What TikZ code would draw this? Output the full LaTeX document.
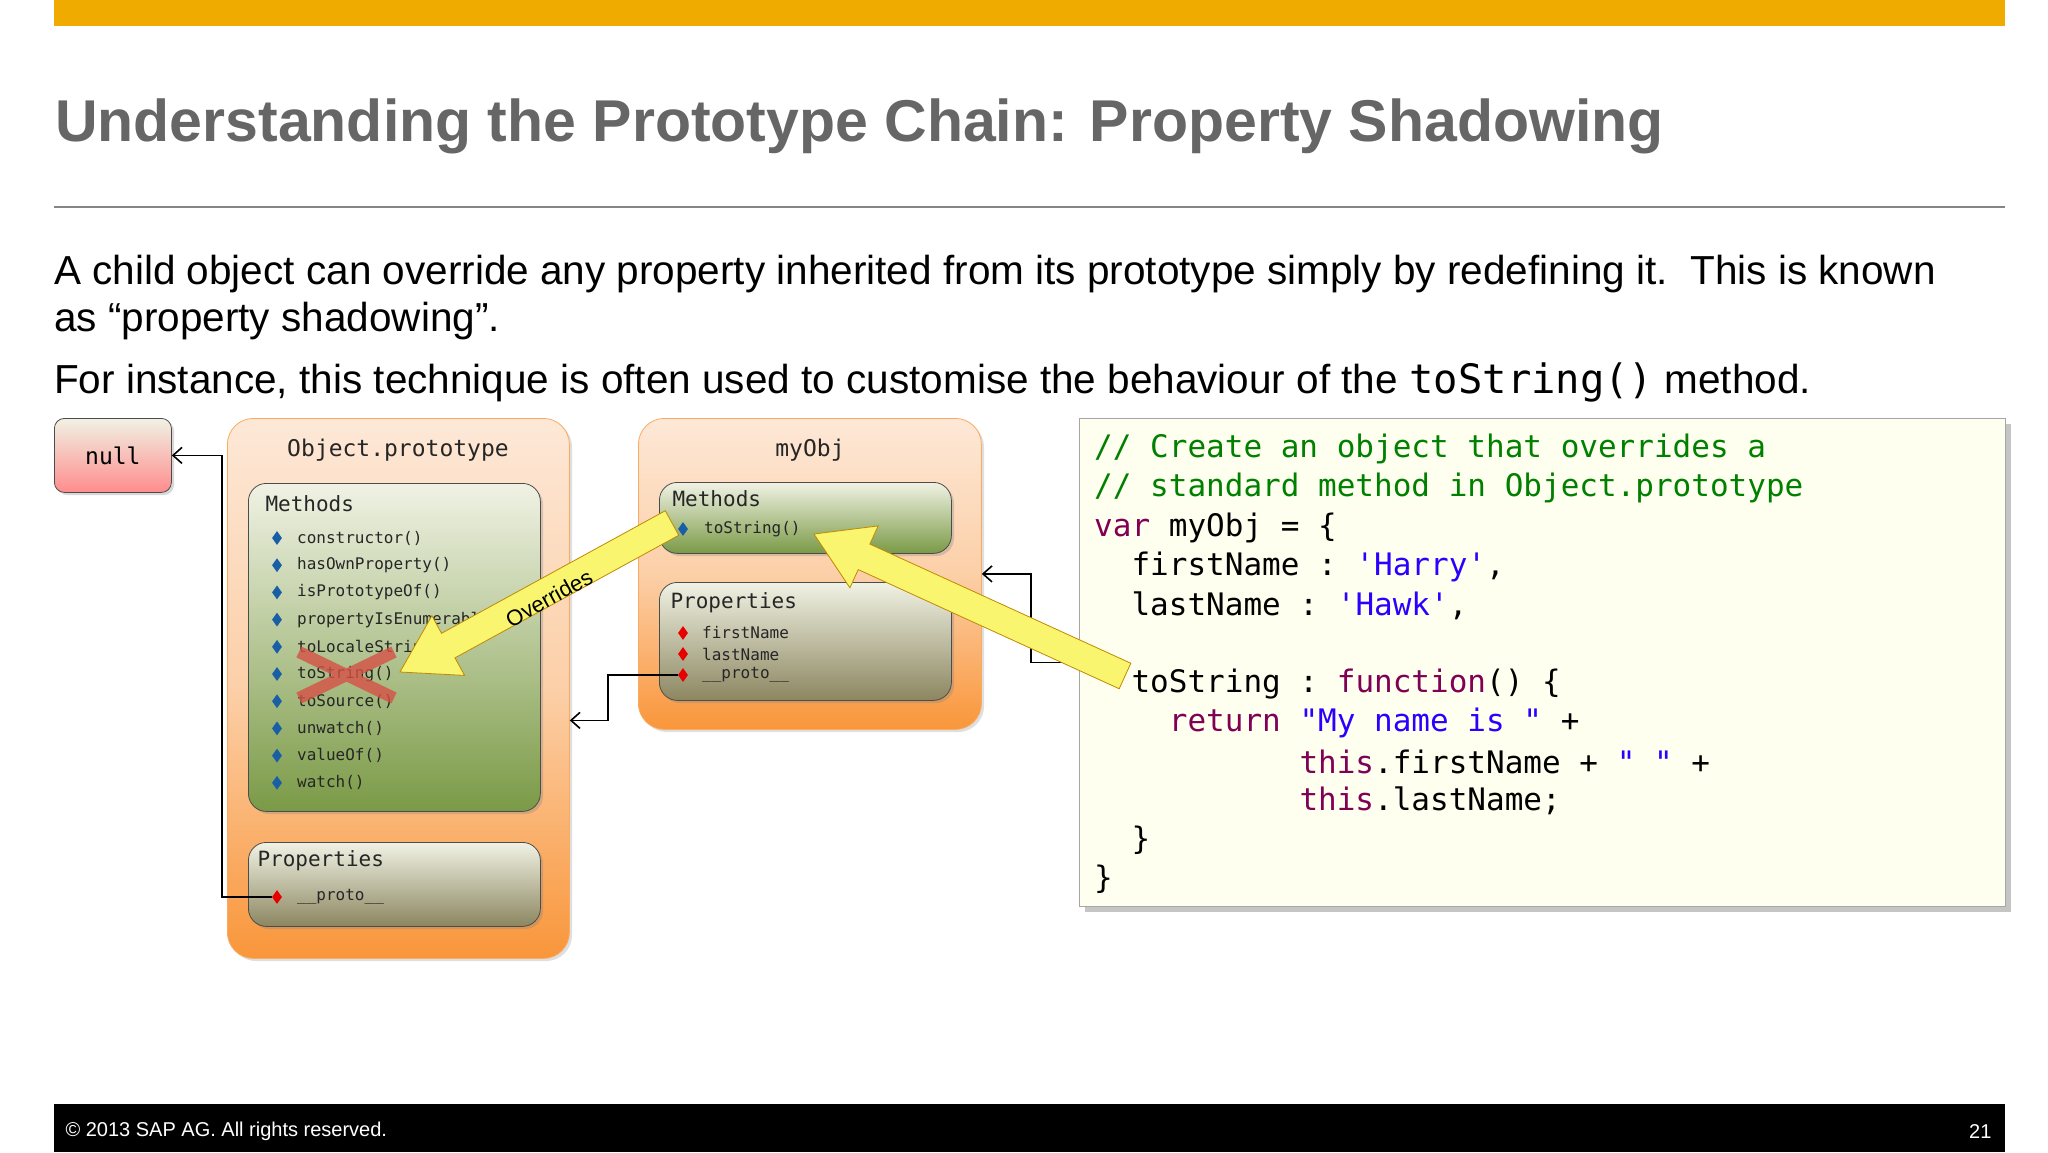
\documentclass[tikz,border=0pt]{standalone}
\usepackage{fontspec}
\setmainfont{Liberation Sans}
\setmonofont{DejaVu Sans Mono}
\usetikzlibrary{positioning,calc,shapes.geometric,shadows,arrows.meta}
\definecolor{colorbar}     {RGB}{240,171,  0}
\definecolor{colortitle}   {RGB}{102,102,102}
\definecolor{colorpeach}   {RGB}{253,232,215}
\definecolor{colororange}  {RGB}{249,150, 58}
\definecolor{colorpale}    {RGB}{240,242,228}
\definecolor{colorgreen}   {RGB}{122,154, 70}
\definecolor{colorolive}   {RGB}{140,134, 96}
\definecolor{colormeth}    {RGB}{ 25, 95,165}
\definecolor{colorprop}    {RGB}{230,  0,  0}
\definecolor{colorcomment} {RGB}{  0,128,  0}
\definecolor{colorkey}     {RGB}{127,  0, 85}
\definecolor{colorstr}     {RGB}{ 42,  0,255}
\definecolor{colorcode}    {RGB}{255,255,240}
\definecolor{colorarrow}   {RGB}{250,245,110}
\definecolor{colorcross}   {RGB}{214, 80, 70}

% block arrow from #1 to #2
\newcommand{\blockarrow}[2]{%
  \coordinate (ah) at ($(#2)!55pt!(#1)$);
  \draw[bigarrow] ($(#1)!14pt!90:(#2)$) -- ($(ah)!14pt!-90:(#1)$) -- ($(ah)!34pt!-90:(#1)$)
    -- (#2) -- ($(ah)!34pt!90:(#1)$) -- ($(ah)!14pt!90:(#1)$) -- ($(#1)!14pt!-90:(#2)$) -- cycle;}

\begin{document}
\begin{tikzpicture}[
    x=1pt, y=-1pt,
    objbox/.style={rectangle,rounded corners=26pt,draw=colororange!80,thick,anchor=north west,
        top color=colorpeach,bottom color=colororange,middle color=colorpeach!70!colororange,
        drop shadow={opacity=0.25}},
    methbox/.style={rectangle,rounded corners=18pt,draw=black!70,thick,anchor=north west,
        top color=colorpale,bottom color=colorgreen,drop shadow={opacity=0.3}},
    propbox/.style={rectangle,rounded corners=18pt,draw=black!70,thick,anchor=north west,
        top color=colorpale,bottom color=colorolive,drop shadow={opacity=0.3}},
    head/.style={font=\fontsize{23}{26}\ttfamily,text=black!85},
    small/.style={font=\fontsize{16}{18}\ttfamily,anchor=west,inner sep=0pt,text=black!85},
    dia/.style={diamond,inner sep=0pt,minimum width=10pt,minimum height=14pt,aspect=0.7},
    link/.style={draw=black,line width=1.6pt,-{Straight Barb[length=9pt,width=16pt,line width=1.6pt]}},
    bigarrow/.style={fill=colorarrow,draw=colorbar!80!black,thick},
    code/.style={font=\fontsize{31}{34}\ttfamily,anchor=west,inner sep=0pt},
    body/.style={font=\fontsize{40.5}{44}\selectfont,anchor=base west,inner sep=0pt,text=black},
]
    \useasboundingbox (0,0) rectangle (2048,1152);
    \fill[white] (0,0) rectangle (2048,1152);

    % header and footer
    \fill[colorbar] (54,0) rectangle (2005,26);
    \node[anchor=base west,inner sep=0pt,text=colortitle,font=\fontsize{59}{64}\bfseries] (title) at (55,141)
        {Understanding the Prototype Chain: Property Shadowing};
    \draw[colortitle!80,line width=1.5pt] (54,207) -- (2005,207);
    \node[body] (line1) at (54,284) {A child object can override any property inherited from its prototype simply by redefining it.\ \ This is known};
    \node[body] (line2) at (54,331) {as “property shadowing”.};
    \node[body] (line3) at (54,393) {For instance, this technique is often used to customise the behaviour of the {\ttfamily toString()} method.};
    \fill[black] (54,1104) rectangle (2005,1152);
    \node[anchor=west,text=white,font=\fontsize{20}{22}\selectfont] (copy) at (62,1131) {© 2013 SAP AG. All rights reserved.};
    \node[anchor=east,text=white,font=\fontsize{20}{22}\selectfont] (page) at (1995,1131) {21};

    % null
    \node[rectangle,rounded corners=10pt,draw=black!70,thick,anchor=north west,minimum width=117pt,minimum height=74pt,
        top color=colorpale,bottom color=red!45,drop shadow={opacity=0.3},font=\fontsize{23}{26}\ttfamily] (null) at (54,418) {null};

    % Object.prototype
    \node[objbox,minimum width=342pt,minimum height=540pt] (op) at (227,418) {};
    \node[head] (optitle) at (398,450) {Object.prototype};
    \node[methbox,minimum width=292pt,minimum height=328pt] (opmeth) at (248,483) {};
    \node[head,anchor=west,font=\fontsize{21}{24}\ttfamily] (opmethlbl) at (262,504) {Methods};
    \foreach \m [count=\i from 0] in {constructor(),hasOwnProperty(),isPrototypeOf(),propertyIsEnumerabl,
        toLocaleStrin,toString(),toSource(),unwatch(),valueOf(),watch()} {
        \node[dia,fill=colormeth] (opd\i) at (277,{538+27.2*\i}) {};
        \node[small] (opm\i) at (297,{538+27.2*\i}) {\m};
    }
    \node[propbox,minimum width=292pt,minimum height=84pt] (opprop) at (248,842) {};
    \node[head,anchor=west,font=\fontsize{21}{24}\ttfamily] (oppropl) at (254,861) {Properties};
    \node[dia,fill=colorprop] (pd) at (277,897) {};
    \node[small] (pproto) at (297,897) {\_\_proto\_\_};

    % red cross on toString()
    \draw[colorcross,opacity=0.8,line width=12pt] (299,652) -- (394,698) (299,698) -- (394,652);

    % myObj
    \node[objbox,minimum width=343pt,minimum height=311pt] (mo) at (638,418) {};
    \node[head] (motitle) at (810,450) {myObj};
    \node[methbox,minimum width=292pt,minimum height=71pt] (mometh) at (659,482) {};
    \node[head,anchor=west,font=\fontsize{21}{24}\ttfamily] (momethl) at (669,499) {Methods};
    \node[dia,fill=colormeth] (mtd) at (683,529) {};
    \node[small] (mts) at (704,529) {toString()};
    \node[propbox,minimum width=292pt,minimum height=118pt] (moprop) at (659,582) {};
    \node[head,anchor=west,font=\fontsize{21}{24}\ttfamily] (mopropl) at (667,603) {Properties};
    \foreach \p/\y [count=\i] in {firstName/633,lastName/654,\_\_proto\_\_/675} {
        \node[dia,fill=colorprop] (md\i) at (683,\y) {};
        \node[small] (mp\i) at (702,\y) {\p};
    }

    % code
    \node[rectangle,draw=black!35,thick,fill=colorcode,anchor=north west,minimum width=926pt,minimum height=488pt,
        drop shadow={shadow xshift=6pt,shadow yshift=-6pt,opacity=0.45}] (codebox) at (1079,418) {};
    \node[code,text=colorcomment] (c1) at (1094,449) {// Create an object that overrides a};
    \node[code,text=colorcomment] (c2) at (1094,488) {// standard method in Object.prototype};
    \node[code] (c3) at (1094,528) {\textcolor{colorkey}{var} myObj = \{};
    \node[code] (c4) at (1094,567) {\phantom{xx}firstName : \textcolor{colorstr}{'Harry'},};
    \node[code] (c5) at (1094,606) {\phantom{xx}lastName : \textcolor{colorstr}{'Hawk'},};
    \node[code] (c7) at (1094,684) {\phantom{xx}toString : \textcolor{colorkey}{function}() \{};
    \node[code] (c8) at (1094,723) {\phantom{xxxx}\textcolor{colorkey}{return} \textcolor{colorstr}{"My name is "} +};
    \node[code] (c9) at (1094,762) {\phantom{xxxxxxxxxxx}\textcolor{colorkey}{this}.firstName + \textcolor{colorstr}{" "} +};
    \node[code] (c10) at (1094,801) {\phantom{xxxxxxxxxxx}\textcolor{colorkey}{this}.lastName;};
    \node[code] (c11) at (1094,840) {\phantom{xx}\}};
    \node[code] (c12) at (1094,879) {\}};

    % prototype links
    \draw[link] (pd.west) -- ++(-50,0) |- (null.east);
    \draw[link] (md3.west) -- ++(-70,0) |- ([yshift=-32pt]op.east);
    \draw[link] (codebox.west) -- ++(-48,0) |- (mo.east);

    % overriding arrows
    \coordinate (oa) at (672,523);
    \coordinate (ob) at (400,672);
    \blockarrow{oa}{ob}
    \node[rotate=29,font=\fontsize{22}{24}\selectfont] (overrides) at (549,598) {Overrides};
    \coordinate (ta) at (1125,676);
    \coordinate (tb) at (814,534);
    \blockarrow{ta}{tb}
\end{tikzpicture}
\end{document}
